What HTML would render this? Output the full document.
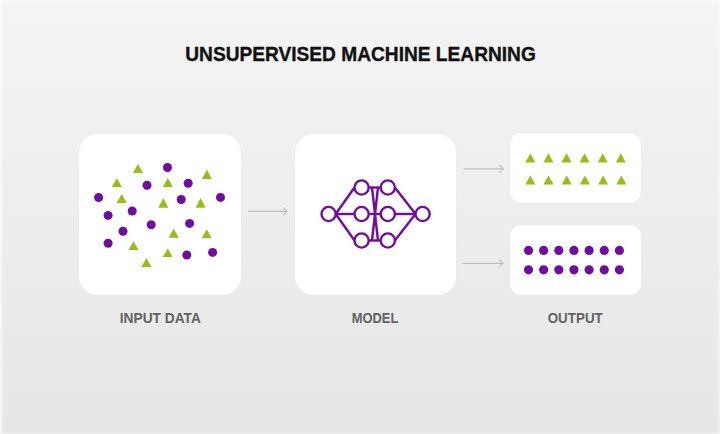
<!DOCTYPE html>
<html><head><meta charset="utf-8"><style>
html,body{margin:0;padding:0;}
body{width:720px;height:434px;position:relative;overflow:hidden;
background:linear-gradient(180deg,#f4f4f4 0%,#eeeeee 47%,#e6e6e6 100%);
font-family:"Liberation Sans",sans-serif;}
.card{position:absolute;background:#fff;box-shadow:0 0 1.5px rgba(0,0,0,.05);}
.t{position:absolute;white-space:nowrap;font-weight:bold;line-height:1;}
svg{position:absolute;left:0;top:0;}
text{font-family:"Liberation Sans",sans-serif;}
</style></head><body>
<div style="position:absolute;left:0;top:0;width:4px;height:434px;background:linear-gradient(90deg,rgba(255,255,255,.75),rgba(255,255,255,0))"></div>
<div style="position:absolute;right:0;top:0;width:4px;height:434px;background:linear-gradient(270deg,rgba(255,255,255,.45),rgba(255,255,255,0))"></div>
<div style="position:absolute;left:0;top:0;width:720px;height:3px;background:linear-gradient(180deg,rgba(255,255,255,.6),rgba(255,255,255,0))"></div>
<div style="position:absolute;left:0;bottom:0;width:720px;height:3px;background:linear-gradient(0deg,rgba(255,255,255,.35),rgba(255,255,255,0))"></div>
<div class="card" style="left:78.7px;top:133.7px;width:162.5px;height:161.1px;border-radius:18px"></div>
<div class="card" style="left:294.5px;top:133.7px;width:161.7px;height:160.9px;border-radius:18px"></div>
<div class="card" style="left:509.6px;top:133.3px;width:131.4px;height:69.5px;border-radius:11px"></div>
<div class="card" style="left:509.5px;top:224.5px;width:131.5px;height:70.2px;border-radius:11px"></div>
<svg width="720" height="434" viewBox="0 0 720 434">
<g fill="#700da0"><circle cx="167.5" cy="167.5" r="4.5"/><circle cx="147" cy="185.2" r="4.5"/><circle cx="188.2" cy="183.3" r="4.5"/><circle cx="98.6" cy="197.5" r="4.5"/><circle cx="181.2" cy="199.5" r="4.5"/><circle cx="220.5" cy="197.4" r="4.5"/><circle cx="108.1" cy="215.4" r="4.5"/><circle cx="132.2" cy="211" r="4.5"/><circle cx="151.2" cy="224.8" r="4.5"/><circle cx="189.6" cy="223.4" r="4.5"/><circle cx="123" cy="231.3" r="4.5"/><circle cx="108.1" cy="243.3" r="4.5"/><circle cx="186.8" cy="255" r="4.5"/><circle cx="212.6" cy="252.4" r="4.5"/></g><g fill="#97be17" ><path d="M138.00 164.00L143.00 173.00L133.00 173.00Z"/><path d="M116.80 177.90L121.80 186.90L111.80 186.90Z"/><path d="M167.80 177.90L172.80 187.10L162.80 187.10Z"/><path d="M206.90 169.70L211.90 179.00L201.90 179.00Z"/><path d="M121.70 194.00L126.70 203.00L116.70 203.00Z"/><path d="M163.30 198.10L168.30 207.70L158.30 207.70Z"/><path d="M200.60 198.10L205.60 207.70L195.60 207.70Z"/><path d="M173.70 228.40L178.70 237.70L168.70 237.70Z"/><path d="M206.70 229.20L211.70 238.30L201.70 238.30Z"/><path d="M133.50 241.20L138.50 250.00L128.50 250.00Z"/><path d="M167.70 248.40L172.70 257.00L162.70 257.00Z"/><path d="M146.40 258.00L151.40 267.00L141.40 267.00Z"/></g><g fill="#97be17" ><path d="M530.30 153.20L535.30 162.40L525.30 162.40Z"/><path d="M548.40 153.20L553.40 162.40L543.40 162.40Z"/><path d="M566.50 153.20L571.50 162.40L561.50 162.40Z"/><path d="M584.60 153.20L589.60 162.40L579.60 162.40Z"/><path d="M602.70 153.20L607.70 162.40L597.70 162.40Z"/><path d="M620.80 153.20L625.80 162.40L615.80 162.40Z"/><path d="M530.30 175.40L535.30 184.60L525.30 184.60Z"/><path d="M548.50 175.40L553.50 184.60L543.50 184.60Z"/><path d="M566.70 175.40L571.70 184.60L561.70 184.60Z"/><path d="M584.90 175.40L589.90 184.60L579.90 184.60Z"/><path d="M603.10 175.40L608.10 184.60L598.10 184.60Z"/><path d="M621.30 175.40L626.30 184.60L616.30 184.60Z"/></g><g fill="#700da0"><circle cx="528.50" cy="250.4" r="4.6"/><circle cx="543.65" cy="250.4" r="4.6"/><circle cx="558.80" cy="250.4" r="4.6"/><circle cx="573.95" cy="250.4" r="4.6"/><circle cx="589.10" cy="250.4" r="4.6"/><circle cx="604.25" cy="250.4" r="4.6"/><circle cx="619.40" cy="250.4" r="4.6"/><circle cx="528.50" cy="269.8" r="4.6"/><circle cx="543.65" cy="269.8" r="4.6"/><circle cx="558.80" cy="269.8" r="4.6"/><circle cx="573.95" cy="269.8" r="4.6"/><circle cx="589.10" cy="269.8" r="4.6"/><circle cx="604.25" cy="269.8" r="4.6"/><circle cx="619.40" cy="269.8" r="4.6"/></g><g stroke="#700da0" stroke-width="2.4" fill="none"><line x1="335.70" y1="214.00" x2="354.50" y2="187.50"/><line x1="394.90" y1="187.50" x2="415.50" y2="214.00"/><line x1="368.70" y1="187.50" x2="380.70" y2="187.50"/><line x1="335.70" y1="214.00" x2="354.50" y2="214.00"/><line x1="394.90" y1="214.00" x2="415.50" y2="214.00"/><line x1="368.70" y1="214.00" x2="380.70" y2="214.00"/><line x1="335.70" y1="214.00" x2="354.50" y2="240.50"/><line x1="394.90" y1="240.50" x2="415.50" y2="214.00"/><line x1="368.70" y1="240.50" x2="380.70" y2="240.50"/><line x1="372.00" y1="187.50" x2="378.00" y2="240.50"/><line x1="378.00" y1="187.50" x2="372.00" y2="240.50"/><circle cx="328.6" cy="214" r="7.1" fill="#fff"/><circle cx="422.6" cy="214" r="7.1" fill="#fff"/><circle cx="361.6" cy="187.5" r="7.1" fill="#fff"/><circle cx="361.6" cy="214" r="7.1" fill="#fff"/><circle cx="361.6" cy="240.5" r="7.1" fill="#fff"/><circle cx="387.8" cy="187.5" r="7.1" fill="#fff"/><circle cx="387.8" cy="214" r="7.1" fill="#fff"/><circle cx="387.8" cy="240.5" r="7.1" fill="#fff"/></g><path d="M248 211.3H287" stroke="#bfbfbf" stroke-width="1.15" fill="none"/><path d="M283 207.5L287 211.3L283 215.10000000000002" stroke="#bfbfbf" stroke-width="1.15" fill="none"/><path d="M463.5 168.8H503.3" stroke="#bfbfbf" stroke-width="1.15" fill="none"/><path d="M499.3 165.0L503.3 168.8L499.3 172.60000000000002" stroke="#bfbfbf" stroke-width="1.15" fill="none"/><path d="M462.5 263.3H503" stroke="#bfbfbf" stroke-width="1.15" fill="none"/><path d="M499 259.5L503 263.3L499 267.1" stroke="#bfbfbf" stroke-width="1.15" fill="none"/>
<text x="185.3" y="60.6" font-size="19.3" font-weight="bold" fill="#111" stroke="#111" stroke-width="0.35" textLength="350.5" lengthAdjust="spacingAndGlyphs">UNSUPERVISED MACHINE LEARNING</text><text x="119.8" y="323.2" font-size="14" font-weight="bold" fill="#626262" textLength="81" lengthAdjust="spacingAndGlyphs">INPUT DATA</text><text x="351.7" y="323.2" font-size="14" font-weight="bold" fill="#626262" textLength="46.7" lengthAdjust="spacingAndGlyphs">MODEL</text><text x="547.7" y="323.2" font-size="14" font-weight="bold" fill="#626262" textLength="55.1" lengthAdjust="spacingAndGlyphs">OUTPUT</text>
</svg>
</body></html>
